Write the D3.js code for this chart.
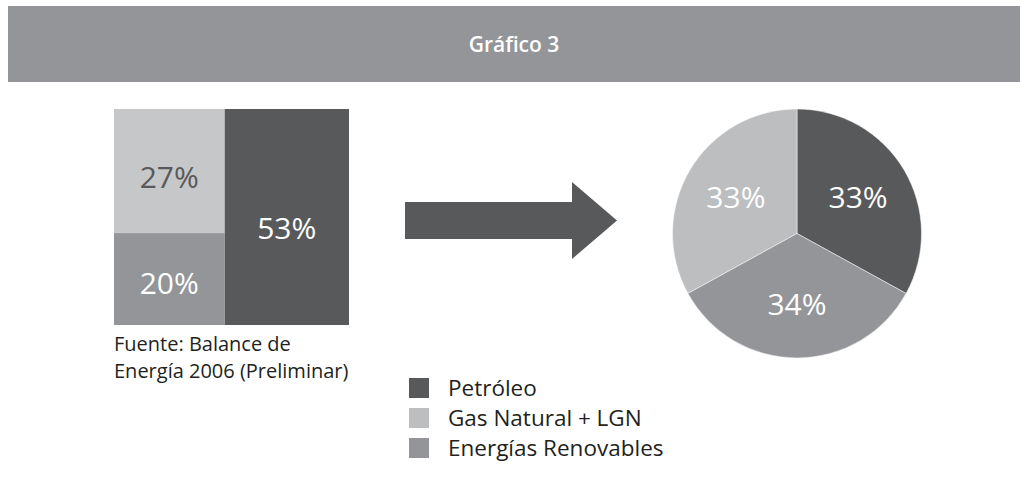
<!DOCTYPE html>
<html>
<head>
<meta charset="utf-8">
<script src="https://cdn.jsdelivr.net/npm/d3@7"></script>
<style>
  html, body { margin: 0; padding: 0; background: #ffffff; }
  svg { display: block; }
  text { font-family: "Open Sans", "Noto Sans", sans-serif; }
</style>
</head>
<body>
<svg id="chart" width="1028" height="486"></svg>
<script>
// ---- data ----
const title = "Gráfico 3";
const categories = ["Petróleo", "Gas Natural + LGN", "Energías Renovables"];
const share2006 = [53, 27, 20];
const shareTarget = [33, 33, 34];
const pieOrder = ["Petróleo", "Energías Renovables", "Gas Natural + LGN"];
const sourceLines = ["Fuente: Balance de", "Energía 2006 (Preliminar)"];

// ---- styles ----
const colDark = "#58595b", colMid = "#939598", colLight = "#bcbec0", colLightBox = "#c6c7c9";
const boxColor = { "Petróleo": colDark, "Gas Natural + LGN": colLightBox, "Energías Renovables": colMid };
const pieColor = { "Petróleo": colDark, "Gas Natural + LGN": colLight, "Energías Renovables": colMid };
const legendColor = { "Petróleo": colDark, "Gas Natural + LGN": colLight, "Energías Renovables": colMid };
const boxText = { "Petróleo": "#ffffff", "Gas Natural + LGN": "#58595b", "Energías Renovables": "#ffffff" };

const svg = d3.select("#chart");

// header band
svg.append("rect").attr("x", 8).attr("y", 6).attr("width", 1012).attr("height", 76).attr("fill", colMid);
svg.append("text").attr("x", 514).attr("y", 52).attr("text-anchor", "middle")
  .attr("fill", "#ffffff").attr("font-size", 21).attr("font-weight", 600).text(title);

// ---- 2006 block (treemap-like) ----
const data2006 = categories.map((c, i) => ({ cat: c, v: share2006[i] }));
const big = data2006[0];
const rest = data2006.slice(1);
const restSum = d3.sum(rest, d => d.v);
const x = d3.scaleLinear().domain([0, d3.sum(data2006, d => d.v)]).range([114, 349]);
const yRest = d3.scaleLinear().domain([0, restSum]).range([109, 325]);

const boxes = [];
boxes.push({ cat: big.cat, v: big.v, x0: x(restSum), x1: x(restSum + big.v), y0: yRest(0), y1: yRest(restSum) });
let acc = 0;
rest.forEach(d => {
  boxes.push({ cat: d.cat, v: d.v, x0: x(0), x1: x(restSum), y0: yRest(acc), y1: yRest(acc + d.v) });
  acc += d.v;
});

const g1 = svg.append("g");
g1.selectAll("rect").data(boxes).join("rect")
  .attr("x", d => d.x0).attr("y", d => d.y0)
  .attr("width", d => d.x1 - d.x0).attr("height", d => d.y1 - d.y0)
  .attr("fill", d => boxColor[d.cat]);
g1.selectAll("text").data(boxes).join("text")
  .attr("x", d => (d.x0 + d.x1) / 2)
  .attr("y", d => d.y0 + (d.y1 - d.y0) * 0.55)
  .attr("dy", "0.36em")
  .attr("text-anchor", "middle")
  .attr("font-size", 30).attr("font-weight", 400)
  .attr("fill", d => boxText[d.cat])
  .text(d => d.v + "%");

// source
svg.append("text").attr("x", 114).attr("y", 351)
  .attr("font-size", 20).attr("fill", "#231f20")
  .selectAll("tspan").data(sourceLines).join("tspan")
  .attr("x", 114).attr("dy", (d, i) => i === 0 ? 0 : 26.5)
  .text(d => d);

// ---- arrow ----
svg.append("path")
  .attr("d", "M405,202 H572 V182 L617,220.5 L572,259 V239 H405 Z")
  .attr("fill", colDark);

// ---- pie ----
const dataTarget = categories.map((c, i) => ({ cat: c, v: shareTarget[i] }));
const r = 124.5;
const pie = d3.pie().value(d => d.v)
  .sort((a, b) => pieOrder.indexOf(a.cat) - pieOrder.indexOf(b.cat));
const arcs = pie(dataTarget);
const arc = d3.arc().innerRadius(0).outerRadius(r);
const labelArc = d3.arc().innerRadius(r * 0.57).outerRadius(r * 0.57);
const g2 = svg.append("g").attr("transform", "translate(797,233.5)");
g2.selectAll("path").data(arcs).join("path")
  .attr("d", arc).attr("fill", d => pieColor[d.data.cat])
  .attr("stroke", "#ffffff").attr("stroke-width", 0.5);
g2.selectAll("text").data(arcs).join("text")
  .attr("transform", d => `translate(${labelArc.centroid(d)})`)
  .attr("dy", "0.36em")
  .attr("text-anchor", "middle")
  .attr("font-size", 30).attr("font-weight", 400)
  .attr("fill", "#ffffff")
  .text(d => d.data.v + "%");

// ---- legend ----
const legend = svg.append("g");
const ly = d3.scalePoint().domain(categories).range([378, 438]);
const items = legend.selectAll("g").data(categories).join("g")
  .attr("transform", d => `translate(409,${ly(d)})`);
items.append("rect").attr("width", 20).attr("height", 20).attr("fill", d => legendColor[d]);
items.append("text").attr("x", 39).attr("y", 10).attr("dy", "0.36em")
  .attr("font-size", 22.5).attr("fill", "#231f20").text(d => d);
</script>
</body>
</html>
